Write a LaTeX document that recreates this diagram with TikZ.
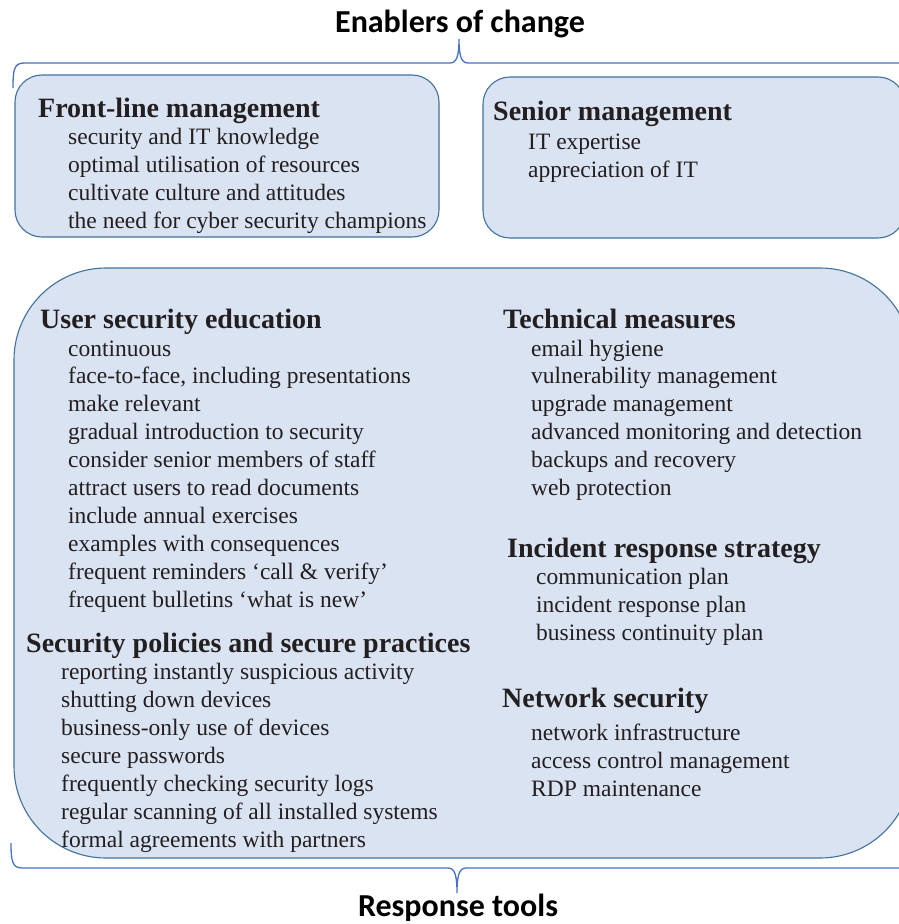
\documentclass[tikz,border=0pt]{standalone}
\usepackage{fontspec}
\setmainfont{Liberation Serif}
\newfontfamily\headfont{Carlito}

\definecolor{boxfill}{RGB}{218,227,242}
\definecolor{boxline}{RGB}{65,113,156}
\definecolor{braceline}{RGB}{68,114,196}
\definecolor{inktext}{RGB}{35,31,32}

\tikzset{
  panel/.style = {fill=boxfill, draw=boxline, line width=1.1pt},
  brace/.style = {draw=braceline, line width=1.3pt},
  heading/.style = {anchor=base west, inner sep=0pt, text=inktext,
    font=\bfseries\fontsize{28}{30}\selectfont},
  entry/.style = {anchor=base west, inner sep=0pt, text=inktext,
    font=\fontsize{23.5}{28}\selectfont},
  title/.style = {inner sep=0pt, text=black,
    font=\headfont\bfseries\fontsize{32}{36}\selectfont}
}

\begin{document}
\begin{tikzpicture}[x=1pt, y=-1pt]
    \useasboundingbox (0,0) rectangle (899,924);

    % titles and braces
    \node[title] (enablers) at (460,24) {Enablers of change};
    \node[title] (response) at (458,908) {Response tools};
    \draw[brace] (13,88) .. controls (13,70) and (14,63) .. (24,63) -- (450,63)
        .. controls (457,63) and (459,55) .. (459,39)
        .. controls (459,55) and (461,63) .. (468,63) -- (905,63);
    \draw[brace] (11,843) .. controls (11,860) and (12,868) .. (22,868) -- (448,868)
        .. controls (455,868) and (457,876) .. (457,893)
        .. controls (457,876) and (459,868) .. (466,868) -- (905,868);

    % panels
    \draw[panel, rounded corners=27pt] (15,75) rectangle (439,237);
    \draw[panel, rounded corners=27pt] (483,77) rectangle (905,238);
    \draw[panel, rounded corners=92pt] (14,268) rectangle (912,858);

    % enablers
    \node[heading] (frontline) at (38,117) {Front-line management};
    \foreach \txt [count=\i from 0] in {security and IT knowledge,
        optimal utilisation of resources, cultivate culture and attitudes,
        the need for cyber security champions}
        \node[entry] (fl\i) at (68,144+28*\i) {\txt};

    \node[heading] (senior) at (493,120) {Senior management};
    \foreach \txt [count=\i from 0] in {IT expertise, appreciation of IT}
        \node[entry] (sm\i) at (528,149+28*\i) {\txt};

    % response tools, left column
    \node[heading] (education) at (40,328) {User security education};
    \foreach \txt [count=\i from 0] in {continuous,
        {face-to-face, including presentations}, make relevant,
        gradual introduction to security, consider senior members of staff,
        attract users to read documents, include annual exercises,
        examples with consequences, frequent reminders ‘call \& verify’,
        frequent bulletins ‘what is new’}
        \node[entry] (ue\i) at (68,356+27.9*\i) {\txt};

    \node[heading] (policies) at (26,652) {Security policies and secure practices};
    \foreach \txt [count=\i from 0] in {reporting instantly suspicious activity,
        shutting down devices, business-only use of devices, secure passwords,
        frequently checking security logs,
        regular scanning of all installed systems,
        formal agreements with partners}
        \node[entry] (sp\i) at (61,679+28*\i) {\txt};

    % response tools, right column
    \node[heading] (technical) at (503,328) {Technical measures};
    \foreach \txt [count=\i from 0] in {email hygiene, vulnerability management,
        upgrade management, advanced monitoring and detection,
        backups and recovery, web protection}
        \node[entry] (tm\i) at (531,356+27.8*\i) {\txt};

    \node[heading] (incident) at (507,557) {Incident response strategy};
    \foreach \txt [count=\i from 0] in {communication plan,
        incident response plan, business continuity plan}
        \node[entry] (ir\i) at (536,584+28*\i) {\txt};

    \node[heading] (network) at (502,707) {Network security};
    \foreach \txt [count=\i from 0] in {network infrastructure,
        access control management, RDP maintenance}
        \node[entry] (ns\i) at (531,740+28*\i) {\txt};
\end{tikzpicture}
\end{document}
